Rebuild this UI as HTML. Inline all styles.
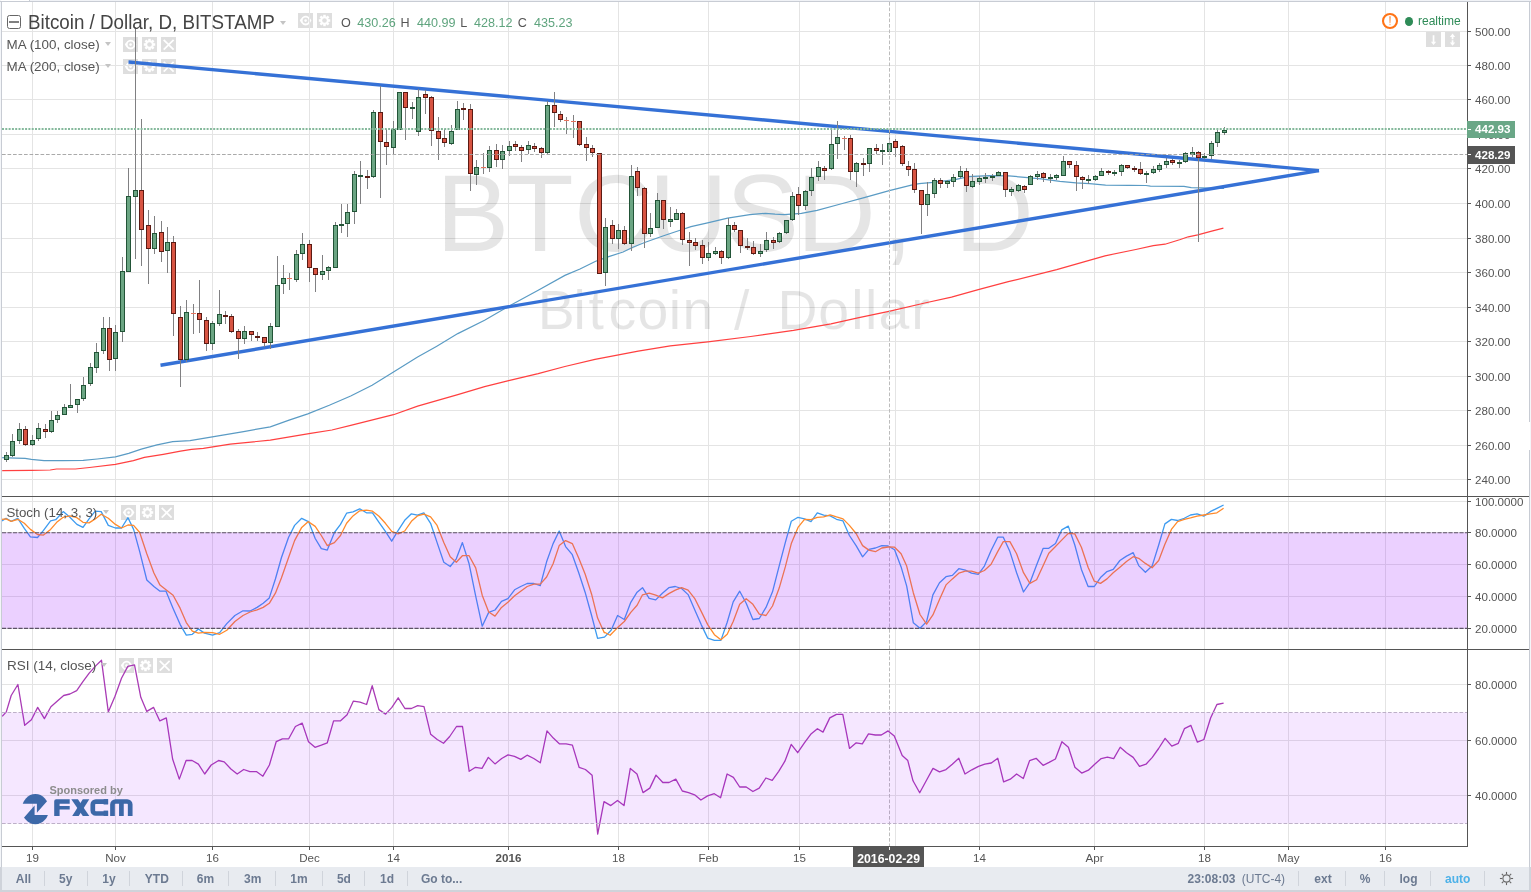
<!DOCTYPE html><html><head><meta charset="utf-8"><title>BTCUSD</title><style>
html,body{margin:0;padding:0;background:#fff;}
body{width:1531px;height:892px;position:relative;overflow:hidden;font-family:"Liberation Sans",sans-serif;filter:blur(0.5px);}
.t{position:absolute;white-space:nowrap;line-height:1;}
.gl{position:absolute;left:0;top:0;width:1531px;height:892px;will-change:transform;}
.ax{font-size:11.6px;color:#555;left:1475px;}
.tm{font-size:11.6px;color:#555;transform:translateX(-50%);top:852px;}
.bb{position:absolute;left:0;top:867px;width:1531px;height:25px;background:#e8ebf0;}
.bt{font-size:12px;font-weight:bold;color:#6c7a91;top:872.5px;transform:translateX(-50%);}
.sep{position:absolute;top:871px;width:1px;height:15px;background:#d0d4db;}
.btn{position:absolute;width:15px;height:15px;background:#dedede;}
.lg{font-size:13.4px;color:#555;}

</style></head><body>
<div class="btn" style="left:298px;top:13px"><svg width="15" height="15" viewBox="0 0 15 15" style="position:absolute;left:0;top:0"><path d="M1.8 7.6 C4 3.6 6 2.7 7.7 2.7 C9.4 2.7 11.4 3.6 13.4 7.6 C11.4 11.6 9.4 12.5 7.7 12.5 C6 12.5 4 11.6 1.8 7.6Z" fill="#fff"/><circle cx="7.6" cy="7.6" r="3" fill="#dedede"/><circle cx="7.6" cy="7.6" r="1.3" fill="#fff"/></svg></div>
<div class="btn" style="left:317px;top:13px"><svg width="15" height="15" viewBox="-7.5 -7.5 15 15" style="position:absolute;left:0;top:0"><g fill="#fff"><circle r="4.3"/><rect x="-1.25" y="-5.7" width="2.5" height="3" transform="rotate(0)"/><rect x="-1.25" y="-5.7" width="2.5" height="3" transform="rotate(45)"/><rect x="-1.25" y="-5.7" width="2.5" height="3" transform="rotate(90)"/><rect x="-1.25" y="-5.7" width="2.5" height="3" transform="rotate(135)"/><rect x="-1.25" y="-5.7" width="2.5" height="3" transform="rotate(180)"/><rect x="-1.25" y="-5.7" width="2.5" height="3" transform="rotate(225)"/><rect x="-1.25" y="-5.7" width="2.5" height="3" transform="rotate(270)"/><rect x="-1.25" y="-5.7" width="2.5" height="3" transform="rotate(315)"/></g><circle r="2.3" fill="#dedede"/></svg></div>
<div class="btn" style="left:123px;top:37px"><svg width="15" height="15" viewBox="0 0 15 15" style="position:absolute;left:0;top:0"><path d="M1.8 7.6 C4 3.6 6 2.7 7.7 2.7 C9.4 2.7 11.4 3.6 13.4 7.6 C11.4 11.6 9.4 12.5 7.7 12.5 C6 12.5 4 11.6 1.8 7.6Z" fill="#fff"/><circle cx="7.6" cy="7.6" r="3" fill="#dedede"/><circle cx="7.6" cy="7.6" r="1.3" fill="#fff"/></svg></div>
<div class="btn" style="left:142px;top:37px"><svg width="15" height="15" viewBox="-7.5 -7.5 15 15" style="position:absolute;left:0;top:0"><g fill="#fff"><circle r="4.3"/><rect x="-1.25" y="-5.7" width="2.5" height="3" transform="rotate(0)"/><rect x="-1.25" y="-5.7" width="2.5" height="3" transform="rotate(45)"/><rect x="-1.25" y="-5.7" width="2.5" height="3" transform="rotate(90)"/><rect x="-1.25" y="-5.7" width="2.5" height="3" transform="rotate(135)"/><rect x="-1.25" y="-5.7" width="2.5" height="3" transform="rotate(180)"/><rect x="-1.25" y="-5.7" width="2.5" height="3" transform="rotate(225)"/><rect x="-1.25" y="-5.7" width="2.5" height="3" transform="rotate(270)"/><rect x="-1.25" y="-5.7" width="2.5" height="3" transform="rotate(315)"/></g><circle r="2.3" fill="#dedede"/></svg></div>
<div class="btn" style="left:161px;top:37px"><svg width="15" height="15" viewBox="0 0 15 15" style="position:absolute;left:0;top:0"><path d="M2.7 2.8 L12.6 12.7 M12.6 2.8 L2.7 12.7" stroke="#fff" stroke-width="1.7" fill="none"/></svg></div>
<div class="btn" style="left:123px;top:59px"><svg width="15" height="15" viewBox="0 0 15 15" style="position:absolute;left:0;top:0"><path d="M1.8 7.6 C4 3.6 6 2.7 7.7 2.7 C9.4 2.7 11.4 3.6 13.4 7.6 C11.4 11.6 9.4 12.5 7.7 12.5 C6 12.5 4 11.6 1.8 7.6Z" fill="#fff"/><circle cx="7.6" cy="7.6" r="3" fill="#dedede"/><circle cx="7.6" cy="7.6" r="1.3" fill="#fff"/></svg></div>
<div class="btn" style="left:142px;top:59px"><svg width="15" height="15" viewBox="-7.5 -7.5 15 15" style="position:absolute;left:0;top:0"><g fill="#fff"><circle r="4.3"/><rect x="-1.25" y="-5.7" width="2.5" height="3" transform="rotate(0)"/><rect x="-1.25" y="-5.7" width="2.5" height="3" transform="rotate(45)"/><rect x="-1.25" y="-5.7" width="2.5" height="3" transform="rotate(90)"/><rect x="-1.25" y="-5.7" width="2.5" height="3" transform="rotate(135)"/><rect x="-1.25" y="-5.7" width="2.5" height="3" transform="rotate(180)"/><rect x="-1.25" y="-5.7" width="2.5" height="3" transform="rotate(225)"/><rect x="-1.25" y="-5.7" width="2.5" height="3" transform="rotate(270)"/><rect x="-1.25" y="-5.7" width="2.5" height="3" transform="rotate(315)"/></g><circle r="2.3" fill="#dedede"/></svg></div>
<div class="btn" style="left:161px;top:59px"><svg width="15" height="15" viewBox="0 0 15 15" style="position:absolute;left:0;top:0"><path d="M2.7 2.8 L12.6 12.7 M12.6 2.8 L2.7 12.7" stroke="#fff" stroke-width="1.7" fill="none"/></svg></div>
<div class="btn" style="left:121px;top:505px"><svg width="15" height="15" viewBox="0 0 15 15" style="position:absolute;left:0;top:0"><path d="M1.8 7.6 C4 3.6 6 2.7 7.7 2.7 C9.4 2.7 11.4 3.6 13.4 7.6 C11.4 11.6 9.4 12.5 7.7 12.5 C6 12.5 4 11.6 1.8 7.6Z" fill="#fff"/><circle cx="7.6" cy="7.6" r="3" fill="#dedede"/><circle cx="7.6" cy="7.6" r="1.3" fill="#fff"/></svg></div>
<div class="btn" style="left:140px;top:505px"><svg width="15" height="15" viewBox="-7.5 -7.5 15 15" style="position:absolute;left:0;top:0"><g fill="#fff"><circle r="4.3"/><rect x="-1.25" y="-5.7" width="2.5" height="3" transform="rotate(0)"/><rect x="-1.25" y="-5.7" width="2.5" height="3" transform="rotate(45)"/><rect x="-1.25" y="-5.7" width="2.5" height="3" transform="rotate(90)"/><rect x="-1.25" y="-5.7" width="2.5" height="3" transform="rotate(135)"/><rect x="-1.25" y="-5.7" width="2.5" height="3" transform="rotate(180)"/><rect x="-1.25" y="-5.7" width="2.5" height="3" transform="rotate(225)"/><rect x="-1.25" y="-5.7" width="2.5" height="3" transform="rotate(270)"/><rect x="-1.25" y="-5.7" width="2.5" height="3" transform="rotate(315)"/></g><circle r="2.3" fill="#dedede"/></svg></div>
<div class="btn" style="left:159px;top:505px"><svg width="15" height="15" viewBox="0 0 15 15" style="position:absolute;left:0;top:0"><path d="M2.7 2.8 L12.6 12.7 M12.6 2.8 L2.7 12.7" stroke="#fff" stroke-width="1.7" fill="none"/></svg></div>
<div class="btn" style="left:119px;top:658px"><svg width="15" height="15" viewBox="0 0 15 15" style="position:absolute;left:0;top:0"><path d="M1.8 7.6 C4 3.6 6 2.7 7.7 2.7 C9.4 2.7 11.4 3.6 13.4 7.6 C11.4 11.6 9.4 12.5 7.7 12.5 C6 12.5 4 11.6 1.8 7.6Z" fill="#fff"/><circle cx="7.6" cy="7.6" r="3" fill="#dedede"/><circle cx="7.6" cy="7.6" r="1.3" fill="#fff"/></svg></div>
<div class="btn" style="left:138px;top:658px"><svg width="15" height="15" viewBox="-7.5 -7.5 15 15" style="position:absolute;left:0;top:0"><g fill="#fff"><circle r="4.3"/><rect x="-1.25" y="-5.7" width="2.5" height="3" transform="rotate(0)"/><rect x="-1.25" y="-5.7" width="2.5" height="3" transform="rotate(45)"/><rect x="-1.25" y="-5.7" width="2.5" height="3" transform="rotate(90)"/><rect x="-1.25" y="-5.7" width="2.5" height="3" transform="rotate(135)"/><rect x="-1.25" y="-5.7" width="2.5" height="3" transform="rotate(180)"/><rect x="-1.25" y="-5.7" width="2.5" height="3" transform="rotate(225)"/><rect x="-1.25" y="-5.7" width="2.5" height="3" transform="rotate(270)"/><rect x="-1.25" y="-5.7" width="2.5" height="3" transform="rotate(315)"/></g><circle r="2.3" fill="#dedede"/></svg></div>
<div class="btn" style="left:157px;top:658px"><svg width="15" height="15" viewBox="0 0 15 15" style="position:absolute;left:0;top:0"><path d="M2.7 2.8 L12.6 12.7 M12.6 2.8 L2.7 12.7" stroke="#fff" stroke-width="1.7" fill="none"/></svg></div>
<div class="btn" style="left:1426px;top:32px"><svg width="15" height="15" viewBox="0 0 15 15" style="position:absolute;left:0;top:0"><path d="M6.7 3.2 H8.4 V9.8 H10.2 L7.55 13.1 L4.9 9.8 H6.7 Z" fill="#fff"/></svg></div>
<div class="btn" style="left:1445px;top:32px"><svg width="15" height="15" viewBox="0 0 15 15" style="position:absolute;left:0;top:0"><path d="M7.55 1.6 L10.2 4.9 H8.4 V7.2 H6.7 V4.9 H4.9 Z M6.7 8.2 H8.4 V10.5 H10.2 L7.55 13.8 L4.9 10.5 H6.7 Z" fill="#fff"/></svg></div>
<svg width="1531" height="892" viewBox="0 0 1531 892" style="position:absolute;left:0;top:0">
<g shape-rendering="crispEdges" fill="#e4e4e4">
<rect x="32" y="2" width="1" height="494"/>
<rect x="32" y="497" width="1" height="152"/>
<rect x="32" y="650" width="1" height="196"/>
<rect x="115" y="2" width="1" height="494"/>
<rect x="115" y="497" width="1" height="152"/>
<rect x="115" y="650" width="1" height="196"/>
<rect x="212" y="2" width="1" height="494"/>
<rect x="212" y="497" width="1" height="152"/>
<rect x="212" y="650" width="1" height="196"/>
<rect x="309" y="2" width="1" height="494"/>
<rect x="309" y="497" width="1" height="152"/>
<rect x="309" y="650" width="1" height="196"/>
<rect x="393" y="2" width="1" height="494"/>
<rect x="393" y="497" width="1" height="152"/>
<rect x="393" y="650" width="1" height="196"/>
<rect x="508" y="2" width="1" height="494"/>
<rect x="508" y="497" width="1" height="152"/>
<rect x="508" y="650" width="1" height="196"/>
<rect x="618" y="2" width="1" height="494"/>
<rect x="618" y="497" width="1" height="152"/>
<rect x="618" y="650" width="1" height="196"/>
<rect x="708" y="2" width="1" height="494"/>
<rect x="708" y="497" width="1" height="152"/>
<rect x="708" y="650" width="1" height="196"/>
<rect x="799" y="2" width="1" height="494"/>
<rect x="799" y="497" width="1" height="152"/>
<rect x="799" y="650" width="1" height="196"/>
<rect x="895" y="2" width="1" height="494"/>
<rect x="895" y="497" width="1" height="152"/>
<rect x="895" y="650" width="1" height="196"/>
<rect x="979" y="2" width="1" height="494"/>
<rect x="979" y="497" width="1" height="152"/>
<rect x="979" y="650" width="1" height="196"/>
<rect x="1094" y="2" width="1" height="494"/>
<rect x="1094" y="497" width="1" height="152"/>
<rect x="1094" y="650" width="1" height="196"/>
<rect x="1204" y="2" width="1" height="494"/>
<rect x="1204" y="497" width="1" height="152"/>
<rect x="1204" y="650" width="1" height="196"/>
<rect x="1288" y="2" width="1" height="494"/>
<rect x="1288" y="497" width="1" height="152"/>
<rect x="1288" y="650" width="1" height="196"/>
<rect x="1385" y="2" width="1" height="494"/>
<rect x="1385" y="497" width="1" height="152"/>
<rect x="1385" y="650" width="1" height="196"/>
<rect x="2" y="31" width="1465" height="1"/>
<rect x="2" y="65" width="1465" height="1"/>
<rect x="2" y="99" width="1465" height="1"/>
<rect x="2" y="134" width="1465" height="1"/>
<rect x="2" y="168" width="1465" height="1"/>
<rect x="2" y="203" width="1465" height="1"/>
<rect x="2" y="238" width="1465" height="1"/>
<rect x="2" y="272" width="1465" height="1"/>
<rect x="2" y="307" width="1465" height="1"/>
<rect x="2" y="341" width="1465" height="1"/>
<rect x="2" y="376" width="1465" height="1"/>
<rect x="2" y="410" width="1465" height="1"/>
<rect x="2" y="445" width="1465" height="1"/>
<rect x="2" y="479" width="1465" height="1"/>
<rect x="2" y="501" width="1465" height="1"/>
<rect x="2" y="532" width="1465" height="1"/>
<rect x="2" y="564" width="1465" height="1"/>
<rect x="2" y="596" width="1465" height="1"/>
<rect x="2" y="628" width="1465" height="1"/>
<rect x="2" y="684" width="1465" height="1"/>
<rect x="2" y="740" width="1465" height="1"/>
<rect x="2" y="795" width="1465" height="1"/>
</g>
<g font-family="Liberation Sans, sans-serif" fill="#000" fill-opacity="0.1">
<text y="250.6" font-size="110" x="435.9 506.5 573.7 648.5 725.8 796.6 882.4 913 954.6">BTCUSD, D</text>
<text y="328.5" font-size="55.4" x="537.7 573.6 588.45 608.5 637.6 668.85 682.6 713 734.1 755 777.5 818.3 851.25 865 878.6 911.15">Bitcoin / Dollar</text>
</g>
<polyline fill="none" stroke="#5a9bc4" stroke-width="1.2" points="2.2,457.7 15.7,458.1 25.1,458.4 31.4,459.3 44.0,460.6 62.8,460.6 83.2,460.4 97.3,459.0 115.4,456.8 128.7,453.3 141.3,449.1 157.0,444.9 172.7,441.7 190.0,440.7 216.8,436.1 243.6,431.6 270.3,426.8 289.1,420.1 307.8,413.9 329.3,405.3 350.7,396.0 372.1,385.2 393.5,371.9 417.6,357.1 436.4,346.4 457.8,333.6 484.6,320.2 508.7,306.2 538.2,290.2 564.9,275.4 580.0,269.0 595.7,261.2 608.7,256.6 623.1,252.0 632.3,247.5 645.3,242.3 663.6,235.7 679.3,230.5 691.0,226.6 708.7,222.7 727.6,218.1 749.8,214.6 765.5,213.3 775.0,214.2 784.1,214.6 801.4,213.4 817.1,210.3 840.6,204.0 864.2,197.7 889.3,190.6 911.3,185.2 919.1,183.6 933.3,182.3 955.0,179.7 968.4,176.6 988.6,175.6 1008.8,175.9 1024.9,177.3 1041.1,178.9 1059.9,181.3 1076.0,182.9 1089.5,183.7 1105.6,185.1 1129.8,185.3 1146.0,185.5 1150.4,186.1 1184.0,186.4 1191.2,187.6 1201.4,187.9 1224.0,188.5"/>
<polyline fill="none" stroke="#ff4040" stroke-width="1.2" points="2.2,470.6 31.4,470.3 50.2,470.0 56.5,469.0 75.4,469.0 89.5,467.5 115.4,464.3 133.4,460.6 144.4,457.4 163.3,454.3 180.5,451.1 191.5,449.3 203.4,448.3 230.2,444.2 270.3,440.1 310.5,433.4 331.9,430.0 350.7,425.4 393.5,414.7 417.6,406.1 457.8,394.6 484.6,386.6 508.7,380.7 538.2,373.7 564.9,366.5 595.0,359.3 638.2,351.2 670.3,345.9 707.8,341.9 750.7,336.5 793.5,330.3 831.0,323.9 857.8,317.8 890.0,311.1 924.8,303.0 951.5,297.1 978.3,289.6 1008.3,281.7 1056.7,269.6 1105.0,255.8 1135.8,249.5 1153.3,245.7 1165.0,244.2 1179.6,239.8 1188.3,236.8 1197.8,234.8 1211.7,231.2 1223.4,228.2"/>
<g stroke="#3571d6" stroke-width="3.4" stroke-linecap="butt" fill="none">
<line x1="128.5" y1="62" x2="1319" y2="170.6"/>
<line x1="160.5" y1="365.3" x2="1319" y2="170.6"/>
</g>
<g shape-rendering="crispEdges">
<rect x="-1" y="458" width="1" height="9" fill="#808082"/>
<rect x="-3" y="460" width="5" height="5" fill="#225437"/>
<rect x="-2" y="461" width="3" height="3" fill="#6ba583"/>
<rect x="6" y="452" width="1" height="10" fill="#808082"/>
<rect x="4" y="455" width="5" height="5" fill="#225437"/>
<rect x="5" y="456" width="3" height="3" fill="#6ba583"/>
<rect x="12" y="434" width="1" height="23" fill="#808082"/>
<rect x="10" y="441" width="5" height="15" fill="#225437"/>
<rect x="11" y="442" width="3" height="13" fill="#6ba583"/>
<rect x="19" y="423" width="1" height="21" fill="#808082"/>
<rect x="17" y="429" width="5" height="12" fill="#225437"/>
<rect x="18" y="430" width="3" height="10" fill="#6ba583"/>
<rect x="25" y="426" width="1" height="20" fill="#808082"/>
<rect x="23" y="429" width="5" height="16" fill="#5b1a13"/>
<rect x="24" y="430" width="3" height="14" fill="#d75442"/>
<rect x="32" y="435" width="1" height="11" fill="#808082"/>
<rect x="30" y="440" width="5" height="5" fill="#225437"/>
<rect x="31" y="441" width="3" height="3" fill="#6ba583"/>
<rect x="38" y="423" width="1" height="18" fill="#808082"/>
<rect x="36" y="428" width="5" height="11" fill="#225437"/>
<rect x="37" y="429" width="3" height="9" fill="#6ba583"/>
<rect x="45" y="424" width="1" height="14" fill="#808082"/>
<rect x="43" y="429" width="5" height="3" fill="#5b1a13"/>
<rect x="44" y="430" width="3" height="1" fill="#d75442"/>
<rect x="51" y="411" width="1" height="22" fill="#808082"/>
<rect x="49" y="420" width="5" height="12" fill="#225437"/>
<rect x="50" y="421" width="3" height="10" fill="#6ba583"/>
<rect x="57" y="411" width="1" height="12" fill="#808082"/>
<rect x="55" y="415" width="5" height="5" fill="#225437"/>
<rect x="56" y="416" width="3" height="3" fill="#6ba583"/>
<rect x="64" y="404" width="1" height="11" fill="#808082"/>
<rect x="62" y="407" width="5" height="8" fill="#225437"/>
<rect x="63" y="408" width="3" height="6" fill="#6ba583"/>
<rect x="70" y="384" width="1" height="24" fill="#808082"/>
<rect x="68" y="405" width="5" height="3" fill="#225437"/>
<rect x="69" y="406" width="3" height="1" fill="#6ba583"/>
<rect x="77" y="399" width="1" height="14" fill="#808082"/>
<rect x="75" y="399" width="5" height="6" fill="#225437"/>
<rect x="76" y="400" width="3" height="4" fill="#6ba583"/>
<rect x="83" y="377" width="1" height="24" fill="#808082"/>
<rect x="81" y="385" width="5" height="14" fill="#225437"/>
<rect x="82" y="386" width="3" height="12" fill="#6ba583"/>
<rect x="90" y="363" width="1" height="23" fill="#808082"/>
<rect x="88" y="367" width="5" height="17" fill="#225437"/>
<rect x="89" y="368" width="3" height="15" fill="#6ba583"/>
<rect x="96" y="343" width="1" height="30" fill="#808082"/>
<rect x="94" y="352" width="5" height="16" fill="#225437"/>
<rect x="95" y="353" width="3" height="14" fill="#6ba583"/>
<rect x="103" y="317" width="1" height="37" fill="#808082"/>
<rect x="101" y="328" width="5" height="23" fill="#225437"/>
<rect x="102" y="329" width="3" height="21" fill="#6ba583"/>
<rect x="109" y="317" width="1" height="54" fill="#808082"/>
<rect x="107" y="328" width="5" height="32" fill="#5b1a13"/>
<rect x="108" y="329" width="3" height="30" fill="#d75442"/>
<rect x="115" y="325" width="1" height="46" fill="#808082"/>
<rect x="113" y="332" width="5" height="27" fill="#225437"/>
<rect x="114" y="333" width="3" height="25" fill="#6ba583"/>
<rect x="122" y="257" width="1" height="85" fill="#808082"/>
<rect x="120" y="271" width="5" height="61" fill="#225437"/>
<rect x="121" y="272" width="3" height="59" fill="#6ba583"/>
<rect x="128" y="168" width="1" height="104" fill="#808082"/>
<rect x="126" y="196" width="5" height="76" fill="#225437"/>
<rect x="127" y="197" width="3" height="74" fill="#6ba583"/>
<rect x="135" y="27" width="1" height="232" fill="#808082"/>
<rect x="133" y="190" width="5" height="7" fill="#225437"/>
<rect x="134" y="191" width="3" height="5" fill="#6ba583"/>
<rect x="141" y="119" width="1" height="147" fill="#808082"/>
<rect x="139" y="190" width="5" height="40" fill="#5b1a13"/>
<rect x="140" y="191" width="3" height="38" fill="#d75442"/>
<rect x="148" y="210" width="1" height="74" fill="#808082"/>
<rect x="146" y="225" width="5" height="24" fill="#5b1a13"/>
<rect x="147" y="226" width="3" height="22" fill="#d75442"/>
<rect x="154" y="216" width="1" height="38" fill="#808082"/>
<rect x="152" y="233" width="5" height="16" fill="#225437"/>
<rect x="153" y="234" width="3" height="14" fill="#6ba583"/>
<rect x="161" y="221" width="1" height="41" fill="#808082"/>
<rect x="159" y="232" width="5" height="20" fill="#5b1a13"/>
<rect x="160" y="233" width="3" height="18" fill="#d75442"/>
<rect x="167" y="227" width="1" height="46" fill="#808082"/>
<rect x="165" y="242" width="5" height="9" fill="#225437"/>
<rect x="166" y="243" width="3" height="7" fill="#6ba583"/>
<rect x="173" y="236" width="1" height="100" fill="#808082"/>
<rect x="171" y="242" width="5" height="72" fill="#5b1a13"/>
<rect x="172" y="243" width="3" height="70" fill="#d75442"/>
<rect x="180" y="306" width="1" height="81" fill="#808082"/>
<rect x="178" y="317" width="5" height="43" fill="#5b1a13"/>
<rect x="179" y="318" width="3" height="41" fill="#d75442"/>
<rect x="186" y="300" width="1" height="62" fill="#808082"/>
<rect x="184" y="312" width="5" height="48" fill="#225437"/>
<rect x="185" y="313" width="3" height="46" fill="#6ba583"/>
<rect x="193" y="304" width="1" height="30" fill="#808082"/>
<rect x="191" y="313" width="5" height="1" fill="#e8745f"/>
<rect x="199" y="280" width="1" height="53" fill="#808082"/>
<rect x="197" y="313" width="5" height="7" fill="#5b1a13"/>
<rect x="198" y="314" width="3" height="5" fill="#d75442"/>
<rect x="206" y="317" width="1" height="34" fill="#808082"/>
<rect x="204" y="320" width="5" height="24" fill="#5b1a13"/>
<rect x="205" y="321" width="3" height="22" fill="#d75442"/>
<rect x="212" y="321" width="1" height="29" fill="#808082"/>
<rect x="210" y="323" width="5" height="21" fill="#225437"/>
<rect x="211" y="324" width="3" height="19" fill="#6ba583"/>
<rect x="219" y="290" width="1" height="36" fill="#808082"/>
<rect x="217" y="314" width="5" height="10" fill="#225437"/>
<rect x="218" y="315" width="3" height="8" fill="#6ba583"/>
<rect x="225" y="311" width="1" height="13" fill="#808082"/>
<rect x="223" y="315" width="5" height="2" fill="#5b1a13"/>
<rect x="231" y="314" width="1" height="19" fill="#808082"/>
<rect x="229" y="316" width="5" height="16" fill="#5b1a13"/>
<rect x="230" y="317" width="3" height="14" fill="#d75442"/>
<rect x="238" y="329" width="1" height="30" fill="#808082"/>
<rect x="236" y="331" width="5" height="8" fill="#5b1a13"/>
<rect x="237" y="332" width="3" height="6" fill="#d75442"/>
<rect x="244" y="326" width="1" height="18" fill="#808082"/>
<rect x="242" y="331" width="5" height="8" fill="#225437"/>
<rect x="243" y="332" width="3" height="6" fill="#6ba583"/>
<rect x="251" y="331" width="1" height="10" fill="#808082"/>
<rect x="249" y="331" width="5" height="4" fill="#5b1a13"/>
<rect x="250" y="332" width="3" height="2" fill="#d75442"/>
<rect x="257" y="332" width="1" height="9" fill="#808082"/>
<rect x="255" y="336" width="5" height="2" fill="#5b1a13"/>
<rect x="264" y="337" width="1" height="10" fill="#808082"/>
<rect x="262" y="337" width="5" height="6" fill="#5b1a13"/>
<rect x="263" y="338" width="3" height="4" fill="#d75442"/>
<rect x="270" y="323" width="1" height="26" fill="#808082"/>
<rect x="268" y="326" width="5" height="17" fill="#225437"/>
<rect x="269" y="327" width="3" height="15" fill="#6ba583"/>
<rect x="277" y="256" width="1" height="71" fill="#808082"/>
<rect x="275" y="285" width="5" height="42" fill="#225437"/>
<rect x="276" y="286" width="3" height="40" fill="#6ba583"/>
<rect x="283" y="265" width="1" height="29" fill="#808082"/>
<rect x="281" y="278" width="5" height="6" fill="#225437"/>
<rect x="282" y="279" width="3" height="4" fill="#6ba583"/>
<rect x="289" y="273" width="1" height="17" fill="#808082"/>
<rect x="287" y="278" width="5" height="1" fill="#e8745f"/>
<rect x="296" y="250" width="1" height="32" fill="#808082"/>
<rect x="294" y="254" width="5" height="26" fill="#225437"/>
<rect x="295" y="255" width="3" height="24" fill="#6ba583"/>
<rect x="302" y="233" width="1" height="27" fill="#808082"/>
<rect x="300" y="244" width="5" height="10" fill="#225437"/>
<rect x="301" y="245" width="3" height="8" fill="#6ba583"/>
<rect x="309" y="240" width="1" height="42" fill="#808082"/>
<rect x="307" y="244" width="5" height="24" fill="#5b1a13"/>
<rect x="308" y="245" width="3" height="22" fill="#d75442"/>
<rect x="315" y="268" width="1" height="24" fill="#808082"/>
<rect x="313" y="268" width="5" height="7" fill="#5b1a13"/>
<rect x="314" y="269" width="3" height="5" fill="#d75442"/>
<rect x="322" y="255" width="1" height="25" fill="#808082"/>
<rect x="320" y="271" width="5" height="4" fill="#225437"/>
<rect x="321" y="272" width="3" height="2" fill="#6ba583"/>
<rect x="328" y="266" width="1" height="14" fill="#808082"/>
<rect x="326" y="267" width="5" height="4" fill="#225437"/>
<rect x="327" y="268" width="3" height="2" fill="#6ba583"/>
<rect x="335" y="222" width="1" height="46" fill="#808082"/>
<rect x="333" y="225" width="5" height="43" fill="#225437"/>
<rect x="334" y="226" width="3" height="41" fill="#6ba583"/>
<rect x="341" y="204" width="1" height="29" fill="#808082"/>
<rect x="339" y="224" width="5" height="2" fill="#225437"/>
<rect x="347" y="204" width="1" height="33" fill="#808082"/>
<rect x="345" y="212" width="5" height="12" fill="#225437"/>
<rect x="346" y="213" width="3" height="10" fill="#6ba583"/>
<rect x="354" y="171" width="1" height="53" fill="#808082"/>
<rect x="352" y="174" width="5" height="38" fill="#225437"/>
<rect x="353" y="175" width="3" height="36" fill="#6ba583"/>
<rect x="360" y="161" width="1" height="43" fill="#808082"/>
<rect x="358" y="175" width="5" height="2" fill="#225437"/>
<rect x="367" y="170" width="1" height="19" fill="#808082"/>
<rect x="365" y="176" width="5" height="2" fill="#5b1a13"/>
<rect x="373" y="110" width="1" height="68" fill="#808082"/>
<rect x="371" y="112" width="5" height="65" fill="#225437"/>
<rect x="372" y="113" width="3" height="63" fill="#6ba583"/>
<rect x="380" y="86" width="1" height="112" fill="#808082"/>
<rect x="378" y="112" width="5" height="30" fill="#5b1a13"/>
<rect x="379" y="113" width="3" height="28" fill="#d75442"/>
<rect x="386" y="129" width="1" height="36" fill="#808082"/>
<rect x="384" y="142" width="5" height="5" fill="#5b1a13"/>
<rect x="385" y="143" width="3" height="3" fill="#d75442"/>
<rect x="393" y="121" width="1" height="33" fill="#808082"/>
<rect x="391" y="129" width="5" height="19" fill="#225437"/>
<rect x="392" y="130" width="3" height="17" fill="#6ba583"/>
<rect x="399" y="92" width="1" height="38" fill="#808082"/>
<rect x="397" y="92" width="5" height="38" fill="#225437"/>
<rect x="398" y="93" width="3" height="36" fill="#6ba583"/>
<rect x="405" y="92" width="1" height="48" fill="#808082"/>
<rect x="403" y="92" width="5" height="16" fill="#5b1a13"/>
<rect x="404" y="93" width="3" height="14" fill="#d75442"/>
<rect x="412" y="102" width="1" height="17" fill="#808082"/>
<rect x="410" y="107" width="5" height="2" fill="#225437"/>
<rect x="418" y="89" width="1" height="47" fill="#808082"/>
<rect x="416" y="97" width="5" height="35" fill="#225437"/>
<rect x="417" y="98" width="3" height="33" fill="#6ba583"/>
<rect x="425" y="90" width="1" height="24" fill="#808082"/>
<rect x="423" y="94" width="5" height="4" fill="#5b1a13"/>
<rect x="424" y="95" width="3" height="2" fill="#d75442"/>
<rect x="431" y="96" width="1" height="50" fill="#808082"/>
<rect x="429" y="97" width="5" height="34" fill="#5b1a13"/>
<rect x="430" y="98" width="3" height="32" fill="#d75442"/>
<rect x="438" y="117" width="1" height="43" fill="#808082"/>
<rect x="436" y="131" width="5" height="8" fill="#5b1a13"/>
<rect x="437" y="132" width="3" height="6" fill="#d75442"/>
<rect x="444" y="129" width="1" height="18" fill="#808082"/>
<rect x="442" y="138" width="5" height="5" fill="#5b1a13"/>
<rect x="443" y="139" width="3" height="3" fill="#d75442"/>
<rect x="451" y="125" width="1" height="20" fill="#808082"/>
<rect x="449" y="131" width="5" height="13" fill="#225437"/>
<rect x="450" y="132" width="3" height="11" fill="#6ba583"/>
<rect x="457" y="101" width="1" height="29" fill="#808082"/>
<rect x="455" y="109" width="5" height="21" fill="#225437"/>
<rect x="456" y="110" width="3" height="19" fill="#6ba583"/>
<rect x="463" y="103" width="1" height="17" fill="#808082"/>
<rect x="461" y="108" width="5" height="2" fill="#5b1a13"/>
<rect x="470" y="104" width="1" height="87" fill="#808082"/>
<rect x="468" y="109" width="5" height="65" fill="#5b1a13"/>
<rect x="469" y="110" width="3" height="63" fill="#d75442"/>
<rect x="476" y="160" width="1" height="25" fill="#808082"/>
<rect x="474" y="167" width="5" height="8" fill="#225437"/>
<rect x="475" y="168" width="3" height="6" fill="#6ba583"/>
<rect x="483" y="153" width="1" height="21" fill="#808082"/>
<rect x="481" y="167" width="5" height="1" fill="#e8745f"/>
<rect x="489" y="146" width="1" height="26" fill="#808082"/>
<rect x="487" y="150" width="5" height="18" fill="#225437"/>
<rect x="488" y="151" width="3" height="16" fill="#6ba583"/>
<rect x="496" y="144" width="1" height="23" fill="#808082"/>
<rect x="494" y="150" width="5" height="10" fill="#5b1a13"/>
<rect x="495" y="151" width="3" height="8" fill="#d75442"/>
<rect x="502" y="145" width="1" height="24" fill="#808082"/>
<rect x="500" y="151" width="5" height="9" fill="#225437"/>
<rect x="501" y="152" width="3" height="7" fill="#6ba583"/>
<rect x="509" y="141" width="1" height="15" fill="#808082"/>
<rect x="507" y="146" width="5" height="5" fill="#225437"/>
<rect x="508" y="147" width="3" height="3" fill="#6ba583"/>
<rect x="515" y="141" width="1" height="10" fill="#808082"/>
<rect x="513" y="144" width="5" height="3" fill="#5b1a13"/>
<rect x="514" y="145" width="3" height="1" fill="#d75442"/>
<rect x="521" y="145" width="1" height="17" fill="#808082"/>
<rect x="519" y="147" width="5" height="4" fill="#5b1a13"/>
<rect x="520" y="148" width="3" height="2" fill="#d75442"/>
<rect x="528" y="141" width="1" height="13" fill="#808082"/>
<rect x="526" y="145" width="5" height="5" fill="#225437"/>
<rect x="527" y="146" width="3" height="3" fill="#6ba583"/>
<rect x="534" y="143" width="1" height="9" fill="#808082"/>
<rect x="532" y="146" width="5" height="3" fill="#5b1a13"/>
<rect x="533" y="147" width="3" height="1" fill="#d75442"/>
<rect x="541" y="147" width="1" height="11" fill="#808082"/>
<rect x="539" y="148" width="5" height="5" fill="#5b1a13"/>
<rect x="540" y="149" width="3" height="3" fill="#d75442"/>
<rect x="547" y="101" width="1" height="53" fill="#808082"/>
<rect x="545" y="105" width="5" height="48" fill="#225437"/>
<rect x="546" y="106" width="3" height="46" fill="#6ba583"/>
<rect x="554" y="92" width="1" height="35" fill="#808082"/>
<rect x="552" y="105" width="5" height="8" fill="#5b1a13"/>
<rect x="553" y="106" width="3" height="6" fill="#d75442"/>
<rect x="560" y="111" width="1" height="11" fill="#808082"/>
<rect x="558" y="114" width="5" height="6" fill="#5b1a13"/>
<rect x="559" y="115" width="3" height="4" fill="#d75442"/>
<rect x="566" y="117" width="1" height="17" fill="#808082"/>
<rect x="564" y="120" width="5" height="1" fill="#e8745f"/>
<rect x="573" y="115" width="1" height="23" fill="#808082"/>
<rect x="571" y="121" width="5" height="1" fill="#e8745f"/>
<rect x="579" y="121" width="1" height="25" fill="#808082"/>
<rect x="577" y="121" width="5" height="24" fill="#5b1a13"/>
<rect x="578" y="122" width="3" height="22" fill="#d75442"/>
<rect x="586" y="137" width="1" height="24" fill="#808082"/>
<rect x="584" y="144" width="5" height="4" fill="#5b1a13"/>
<rect x="585" y="145" width="3" height="2" fill="#d75442"/>
<rect x="592" y="145" width="1" height="12" fill="#808082"/>
<rect x="590" y="148" width="5" height="5" fill="#5b1a13"/>
<rect x="591" y="149" width="3" height="3" fill="#d75442"/>
<rect x="599" y="153" width="1" height="121" fill="#808082"/>
<rect x="597" y="153" width="5" height="121" fill="#5b1a13"/>
<rect x="598" y="154" width="3" height="119" fill="#d75442"/>
<rect x="605" y="218" width="1" height="68" fill="#808082"/>
<rect x="603" y="227" width="5" height="46" fill="#225437"/>
<rect x="604" y="228" width="3" height="44" fill="#6ba583"/>
<rect x="612" y="220" width="1" height="24" fill="#808082"/>
<rect x="610" y="225" width="5" height="14" fill="#5b1a13"/>
<rect x="611" y="226" width="3" height="12" fill="#d75442"/>
<rect x="618" y="224" width="1" height="25" fill="#808082"/>
<rect x="616" y="230" width="5" height="9" fill="#225437"/>
<rect x="617" y="231" width="3" height="7" fill="#6ba583"/>
<rect x="624" y="226" width="1" height="19" fill="#808082"/>
<rect x="622" y="230" width="5" height="14" fill="#5b1a13"/>
<rect x="623" y="231" width="3" height="12" fill="#d75442"/>
<rect x="631" y="165" width="1" height="86" fill="#808082"/>
<rect x="629" y="176" width="5" height="68" fill="#225437"/>
<rect x="630" y="177" width="3" height="66" fill="#6ba583"/>
<rect x="637" y="167" width="1" height="29" fill="#808082"/>
<rect x="635" y="171" width="5" height="17" fill="#5b1a13"/>
<rect x="636" y="172" width="3" height="15" fill="#d75442"/>
<rect x="644" y="187" width="1" height="61" fill="#808082"/>
<rect x="642" y="188" width="5" height="46" fill="#5b1a13"/>
<rect x="643" y="189" width="3" height="44" fill="#d75442"/>
<rect x="650" y="213" width="1" height="24" fill="#808082"/>
<rect x="648" y="228" width="5" height="6" fill="#225437"/>
<rect x="649" y="229" width="3" height="4" fill="#6ba583"/>
<rect x="657" y="193" width="1" height="35" fill="#808082"/>
<rect x="655" y="200" width="5" height="28" fill="#225437"/>
<rect x="656" y="201" width="3" height="26" fill="#6ba583"/>
<rect x="663" y="200" width="1" height="29" fill="#808082"/>
<rect x="661" y="200" width="5" height="20" fill="#5b1a13"/>
<rect x="662" y="201" width="3" height="18" fill="#d75442"/>
<rect x="670" y="207" width="1" height="20" fill="#808082"/>
<rect x="668" y="219" width="5" height="3" fill="#225437"/>
<rect x="669" y="220" width="3" height="1" fill="#6ba583"/>
<rect x="676" y="209" width="1" height="11" fill="#808082"/>
<rect x="674" y="213" width="5" height="7" fill="#225437"/>
<rect x="675" y="214" width="3" height="5" fill="#6ba583"/>
<rect x="682" y="212" width="1" height="33" fill="#808082"/>
<rect x="680" y="213" width="5" height="27" fill="#5b1a13"/>
<rect x="681" y="214" width="3" height="25" fill="#d75442"/>
<rect x="689" y="232" width="1" height="34" fill="#808082"/>
<rect x="687" y="240" width="5" height="3" fill="#5b1a13"/>
<rect x="688" y="241" width="3" height="1" fill="#d75442"/>
<rect x="695" y="238" width="1" height="12" fill="#808082"/>
<rect x="693" y="242" width="5" height="4" fill="#5b1a13"/>
<rect x="694" y="243" width="3" height="2" fill="#d75442"/>
<rect x="702" y="240" width="1" height="24" fill="#808082"/>
<rect x="700" y="245" width="5" height="13" fill="#5b1a13"/>
<rect x="701" y="246" width="3" height="11" fill="#d75442"/>
<rect x="708" y="242" width="1" height="19" fill="#808082"/>
<rect x="706" y="253" width="5" height="5" fill="#225437"/>
<rect x="707" y="254" width="3" height="3" fill="#6ba583"/>
<rect x="715" y="247" width="1" height="8" fill="#808082"/>
<rect x="713" y="251" width="5" height="3" fill="#225437"/>
<rect x="714" y="252" width="3" height="1" fill="#6ba583"/>
<rect x="721" y="250" width="1" height="14" fill="#808082"/>
<rect x="719" y="251" width="5" height="7" fill="#5b1a13"/>
<rect x="720" y="252" width="3" height="5" fill="#d75442"/>
<rect x="728" y="218" width="1" height="41" fill="#808082"/>
<rect x="726" y="225" width="5" height="33" fill="#225437"/>
<rect x="727" y="226" width="3" height="31" fill="#6ba583"/>
<rect x="734" y="222" width="1" height="10" fill="#808082"/>
<rect x="732" y="225" width="5" height="5" fill="#5b1a13"/>
<rect x="733" y="226" width="3" height="3" fill="#d75442"/>
<rect x="740" y="230" width="1" height="23" fill="#808082"/>
<rect x="738" y="230" width="5" height="16" fill="#5b1a13"/>
<rect x="739" y="231" width="3" height="14" fill="#d75442"/>
<rect x="747" y="238" width="1" height="12" fill="#808082"/>
<rect x="745" y="246" width="5" height="2" fill="#5b1a13"/>
<rect x="753" y="241" width="1" height="14" fill="#808082"/>
<rect x="751" y="247" width="5" height="7" fill="#5b1a13"/>
<rect x="752" y="248" width="3" height="5" fill="#d75442"/>
<rect x="760" y="244" width="1" height="13" fill="#808082"/>
<rect x="758" y="251" width="5" height="3" fill="#225437"/>
<rect x="759" y="252" width="3" height="1" fill="#6ba583"/>
<rect x="766" y="232" width="1" height="20" fill="#808082"/>
<rect x="764" y="240" width="5" height="10" fill="#225437"/>
<rect x="765" y="241" width="3" height="8" fill="#6ba583"/>
<rect x="773" y="237" width="1" height="12" fill="#808082"/>
<rect x="771" y="240" width="5" height="3" fill="#5b1a13"/>
<rect x="772" y="241" width="3" height="1" fill="#d75442"/>
<rect x="779" y="232" width="1" height="11" fill="#808082"/>
<rect x="777" y="233" width="5" height="9" fill="#225437"/>
<rect x="778" y="234" width="3" height="7" fill="#6ba583"/>
<rect x="786" y="220" width="1" height="14" fill="#808082"/>
<rect x="784" y="220" width="5" height="13" fill="#225437"/>
<rect x="785" y="221" width="3" height="11" fill="#6ba583"/>
<rect x="792" y="192" width="1" height="29" fill="#808082"/>
<rect x="790" y="196" width="5" height="24" fill="#225437"/>
<rect x="791" y="197" width="3" height="22" fill="#6ba583"/>
<rect x="798" y="187" width="1" height="28" fill="#808082"/>
<rect x="796" y="194" width="5" height="12" fill="#5b1a13"/>
<rect x="797" y="195" width="3" height="10" fill="#d75442"/>
<rect x="805" y="190" width="1" height="20" fill="#808082"/>
<rect x="803" y="191" width="5" height="15" fill="#225437"/>
<rect x="804" y="192" width="3" height="13" fill="#6ba583"/>
<rect x="811" y="168" width="1" height="28" fill="#808082"/>
<rect x="809" y="177" width="5" height="14" fill="#225437"/>
<rect x="810" y="178" width="3" height="12" fill="#6ba583"/>
<rect x="818" y="161" width="1" height="20" fill="#808082"/>
<rect x="816" y="167" width="5" height="10" fill="#225437"/>
<rect x="817" y="168" width="3" height="8" fill="#6ba583"/>
<rect x="824" y="166" width="1" height="14" fill="#808082"/>
<rect x="822" y="168" width="5" height="3" fill="#5b1a13"/>
<rect x="823" y="169" width="3" height="1" fill="#d75442"/>
<rect x="831" y="128" width="1" height="42" fill="#808082"/>
<rect x="829" y="144" width="5" height="25" fill="#225437"/>
<rect x="830" y="145" width="3" height="23" fill="#6ba583"/>
<rect x="837" y="121" width="1" height="38" fill="#808082"/>
<rect x="835" y="137" width="5" height="7" fill="#225437"/>
<rect x="836" y="138" width="3" height="5" fill="#6ba583"/>
<rect x="844" y="136" width="1" height="14" fill="#808082"/>
<rect x="842" y="138" width="5" height="1" fill="#e8745f"/>
<rect x="850" y="135" width="1" height="45" fill="#808082"/>
<rect x="848" y="138" width="5" height="34" fill="#5b1a13"/>
<rect x="849" y="139" width="3" height="32" fill="#d75442"/>
<rect x="856" y="162" width="1" height="25" fill="#808082"/>
<rect x="854" y="163" width="5" height="9" fill="#225437"/>
<rect x="855" y="164" width="3" height="7" fill="#6ba583"/>
<rect x="863" y="158" width="1" height="18" fill="#808082"/>
<rect x="861" y="163" width="5" height="2" fill="#5b1a13"/>
<rect x="869" y="148" width="1" height="24" fill="#808082"/>
<rect x="867" y="148" width="5" height="16" fill="#225437"/>
<rect x="868" y="149" width="3" height="14" fill="#6ba583"/>
<rect x="876" y="144" width="1" height="10" fill="#808082"/>
<rect x="874" y="148" width="5" height="3" fill="#5b1a13"/>
<rect x="875" y="149" width="3" height="1" fill="#d75442"/>
<rect x="882" y="144" width="1" height="21" fill="#808082"/>
<rect x="880" y="150" width="5" height="2" fill="#225437"/>
<rect x="889" y="130" width="1" height="25" fill="#808082"/>
<rect x="887" y="143" width="5" height="9" fill="#225437"/>
<rect x="888" y="144" width="3" height="7" fill="#6ba583"/>
<rect x="895" y="139" width="1" height="18" fill="#808082"/>
<rect x="893" y="141" width="5" height="7" fill="#5b1a13"/>
<rect x="894" y="142" width="3" height="5" fill="#d75442"/>
<rect x="902" y="145" width="1" height="21" fill="#808082"/>
<rect x="900" y="146" width="5" height="18" fill="#5b1a13"/>
<rect x="901" y="147" width="3" height="16" fill="#d75442"/>
<rect x="908" y="161" width="1" height="15" fill="#808082"/>
<rect x="906" y="166" width="5" height="4" fill="#5b1a13"/>
<rect x="907" y="167" width="3" height="2" fill="#d75442"/>
<rect x="914" y="163" width="1" height="30" fill="#808082"/>
<rect x="912" y="169" width="5" height="21" fill="#5b1a13"/>
<rect x="913" y="170" width="3" height="19" fill="#d75442"/>
<rect x="921" y="190" width="1" height="44" fill="#808082"/>
<rect x="919" y="190" width="5" height="15" fill="#5b1a13"/>
<rect x="920" y="191" width="3" height="13" fill="#d75442"/>
<rect x="927" y="182" width="1" height="34" fill="#808082"/>
<rect x="925" y="194" width="5" height="11" fill="#225437"/>
<rect x="926" y="195" width="3" height="9" fill="#6ba583"/>
<rect x="934" y="178" width="1" height="20" fill="#808082"/>
<rect x="932" y="180" width="5" height="14" fill="#225437"/>
<rect x="933" y="181" width="3" height="12" fill="#6ba583"/>
<rect x="940" y="178" width="1" height="10" fill="#808082"/>
<rect x="938" y="180" width="5" height="4" fill="#5b1a13"/>
<rect x="939" y="181" width="3" height="2" fill="#d75442"/>
<rect x="947" y="180" width="1" height="8" fill="#808082"/>
<rect x="945" y="181" width="5" height="3" fill="#225437"/>
<rect x="946" y="182" width="3" height="1" fill="#6ba583"/>
<rect x="953" y="174" width="1" height="13" fill="#808082"/>
<rect x="951" y="177" width="5" height="5" fill="#225437"/>
<rect x="952" y="178" width="3" height="3" fill="#6ba583"/>
<rect x="960" y="166" width="1" height="12" fill="#808082"/>
<rect x="958" y="171" width="5" height="6" fill="#225437"/>
<rect x="959" y="172" width="3" height="4" fill="#6ba583"/>
<rect x="966" y="168" width="1" height="24" fill="#808082"/>
<rect x="964" y="171" width="5" height="15" fill="#5b1a13"/>
<rect x="965" y="172" width="3" height="13" fill="#d75442"/>
<rect x="972" y="174" width="1" height="14" fill="#808082"/>
<rect x="970" y="181" width="5" height="6" fill="#225437"/>
<rect x="971" y="182" width="3" height="4" fill="#6ba583"/>
<rect x="979" y="176" width="1" height="9" fill="#808082"/>
<rect x="977" y="178" width="5" height="4" fill="#225437"/>
<rect x="978" y="179" width="3" height="2" fill="#6ba583"/>
<rect x="985" y="173" width="1" height="10" fill="#808082"/>
<rect x="983" y="177" width="5" height="2" fill="#225437"/>
<rect x="992" y="174" width="1" height="7" fill="#808082"/>
<rect x="990" y="176" width="5" height="2" fill="#225437"/>
<rect x="998" y="171" width="1" height="5" fill="#808082"/>
<rect x="996" y="172" width="5" height="4" fill="#225437"/>
<rect x="997" y="173" width="3" height="2" fill="#6ba583"/>
<rect x="1005" y="172" width="1" height="25" fill="#808082"/>
<rect x="1003" y="172" width="5" height="18" fill="#5b1a13"/>
<rect x="1004" y="173" width="3" height="16" fill="#d75442"/>
<rect x="1011" y="187" width="1" height="9" fill="#808082"/>
<rect x="1009" y="189" width="5" height="3" fill="#225437"/>
<rect x="1010" y="190" width="3" height="1" fill="#6ba583"/>
<rect x="1018" y="184" width="1" height="8" fill="#808082"/>
<rect x="1016" y="185" width="5" height="6" fill="#225437"/>
<rect x="1017" y="186" width="3" height="4" fill="#6ba583"/>
<rect x="1024" y="185" width="1" height="8" fill="#808082"/>
<rect x="1022" y="186" width="5" height="4" fill="#5b1a13"/>
<rect x="1023" y="187" width="3" height="2" fill="#d75442"/>
<rect x="1030" y="175" width="1" height="10" fill="#808082"/>
<rect x="1028" y="176" width="5" height="9" fill="#225437"/>
<rect x="1029" y="177" width="3" height="7" fill="#6ba583"/>
<rect x="1037" y="171" width="1" height="9" fill="#808082"/>
<rect x="1035" y="174" width="5" height="3" fill="#225437"/>
<rect x="1036" y="175" width="3" height="1" fill="#6ba583"/>
<rect x="1043" y="172" width="1" height="10" fill="#808082"/>
<rect x="1041" y="173" width="5" height="5" fill="#5b1a13"/>
<rect x="1042" y="174" width="3" height="3" fill="#d75442"/>
<rect x="1050" y="174" width="1" height="9" fill="#808082"/>
<rect x="1048" y="177" width="5" height="2" fill="#225437"/>
<rect x="1056" y="174" width="1" height="6" fill="#808082"/>
<rect x="1054" y="175" width="5" height="3" fill="#225437"/>
<rect x="1055" y="176" width="3" height="1" fill="#6ba583"/>
<rect x="1063" y="156" width="1" height="20" fill="#808082"/>
<rect x="1061" y="161" width="5" height="15" fill="#225437"/>
<rect x="1062" y="162" width="3" height="13" fill="#6ba583"/>
<rect x="1069" y="161" width="1" height="7" fill="#808082"/>
<rect x="1067" y="161" width="5" height="4" fill="#5b1a13"/>
<rect x="1068" y="162" width="3" height="2" fill="#d75442"/>
<rect x="1076" y="161" width="1" height="30" fill="#808082"/>
<rect x="1074" y="165" width="5" height="12" fill="#5b1a13"/>
<rect x="1075" y="166" width="3" height="10" fill="#d75442"/>
<rect x="1082" y="176" width="1" height="13" fill="#808082"/>
<rect x="1080" y="177" width="5" height="3" fill="#5b1a13"/>
<rect x="1081" y="178" width="3" height="1" fill="#d75442"/>
<rect x="1088" y="175" width="1" height="9" fill="#808082"/>
<rect x="1086" y="179" width="5" height="2" fill="#225437"/>
<rect x="1095" y="175" width="1" height="6" fill="#808082"/>
<rect x="1093" y="176" width="5" height="4" fill="#225437"/>
<rect x="1094" y="177" width="3" height="2" fill="#6ba583"/>
<rect x="1101" y="168" width="1" height="8" fill="#808082"/>
<rect x="1099" y="171" width="5" height="5" fill="#225437"/>
<rect x="1100" y="172" width="3" height="3" fill="#6ba583"/>
<rect x="1108" y="170" width="1" height="5" fill="#808082"/>
<rect x="1106" y="171" width="5" height="2" fill="#5b1a13"/>
<rect x="1114" y="170" width="1" height="6" fill="#808082"/>
<rect x="1112" y="172" width="5" height="2" fill="#225437"/>
<rect x="1121" y="164" width="1" height="12" fill="#808082"/>
<rect x="1119" y="165" width="5" height="7" fill="#225437"/>
<rect x="1120" y="166" width="3" height="5" fill="#6ba583"/>
<rect x="1127" y="165" width="1" height="4" fill="#808082"/>
<rect x="1125" y="165" width="5" height="3" fill="#5b1a13"/>
<rect x="1126" y="166" width="3" height="1" fill="#d75442"/>
<rect x="1134" y="166" width="1" height="6" fill="#808082"/>
<rect x="1132" y="168" width="5" height="2" fill="#5b1a13"/>
<rect x="1140" y="162" width="1" height="13" fill="#808082"/>
<rect x="1138" y="169" width="5" height="5" fill="#5b1a13"/>
<rect x="1139" y="170" width="3" height="3" fill="#d75442"/>
<rect x="1146" y="171" width="1" height="12" fill="#808082"/>
<rect x="1144" y="173" width="5" height="2" fill="#225437"/>
<rect x="1153" y="166" width="1" height="8" fill="#808082"/>
<rect x="1151" y="169" width="5" height="4" fill="#225437"/>
<rect x="1152" y="170" width="3" height="2" fill="#6ba583"/>
<rect x="1159" y="163" width="1" height="9" fill="#808082"/>
<rect x="1157" y="165" width="5" height="5" fill="#225437"/>
<rect x="1158" y="166" width="3" height="3" fill="#6ba583"/>
<rect x="1166" y="158" width="1" height="10" fill="#808082"/>
<rect x="1164" y="161" width="5" height="4" fill="#225437"/>
<rect x="1165" y="162" width="3" height="2" fill="#6ba583"/>
<rect x="1172" y="159" width="1" height="6" fill="#808082"/>
<rect x="1170" y="160" width="5" height="3" fill="#5b1a13"/>
<rect x="1171" y="161" width="3" height="1" fill="#d75442"/>
<rect x="1179" y="160" width="1" height="8" fill="#808082"/>
<rect x="1177" y="162" width="5" height="2" fill="#225437"/>
<rect x="1185" y="152" width="1" height="11" fill="#808082"/>
<rect x="1183" y="153" width="5" height="9" fill="#225437"/>
<rect x="1184" y="154" width="3" height="7" fill="#6ba583"/>
<rect x="1192" y="147" width="1" height="10" fill="#808082"/>
<rect x="1190" y="152" width="5" height="3" fill="#225437"/>
<rect x="1191" y="153" width="3" height="1" fill="#6ba583"/>
<rect x="1198" y="151" width="1" height="91" fill="#808082"/>
<rect x="1196" y="152" width="5" height="6" fill="#5b1a13"/>
<rect x="1197" y="153" width="3" height="4" fill="#d75442"/>
<rect x="1204" y="153" width="1" height="6" fill="#808082"/>
<rect x="1202" y="156" width="5" height="2" fill="#225437"/>
<rect x="1211" y="141" width="1" height="18" fill="#808082"/>
<rect x="1209" y="143" width="5" height="13" fill="#225437"/>
<rect x="1210" y="144" width="3" height="11" fill="#6ba583"/>
<rect x="1217" y="129" width="1" height="18" fill="#808082"/>
<rect x="1215" y="132" width="5" height="11" fill="#225437"/>
<rect x="1216" y="133" width="3" height="9" fill="#6ba583"/>
<rect x="1224" y="127" width="1" height="8" fill="#808082"/>
<rect x="1222" y="130" width="5" height="3" fill="#225437"/>
<rect x="1223" y="131" width="3" height="1" fill="#6ba583"/>
</g>
<line x1="889.5" y1="2" x2="889.5" y2="846" stroke="#bcbcbc" stroke-width="1" stroke-dasharray="3.7,1.8"/>
<line x1="2" y1="129" x2="1467" y2="129" stroke="#85b99c" stroke-width="2" stroke-dasharray="2,1.3"/>
<line x1="2" y1="154.5" x2="1467" y2="154.5" stroke="#a0a0a0" stroke-width="0.9" stroke-dasharray="3.7,1.8"/>
<polyline fill="none" stroke="#3d9bf0" stroke-width="1.3" stroke-linejoin="round" points="2.0,520.9 6.1,518.3 11.1,521.3 17.8,518.3 24.3,528.4 30.4,536.9 37.5,537.5 43.5,530.4 50.6,520.9 55.7,519.7 63.2,511.6 69.9,517.3 76.9,524.4 83.0,527.4 89.1,518.9 95.2,511.2 101.2,511.6 108.3,525.4 115.4,528.0 121.5,528.0 128.0,517.7 133.6,529.4 139.7,551.7 146.8,580.0 153.9,586.5 160.0,591.2 166.0,591.2 173.1,608.4 180.2,624.6 186.3,635.1 192.3,634.3 198.4,629.0 204.5,633.1 212.6,635.1 219.7,632.7 226.8,623.6 234.9,615.5 243.0,610.8 250.1,611.0 257.1,607.4 263.2,603.3 269.3,597.9 275.4,579.0 281.4,557.8 288.5,537.5 294.6,525.4 301.7,518.3 307.8,521.3 308.5,521.3 315.2,538.5 321.3,548.7 327.3,550.1 334.4,532.5 340.5,524.4 346.6,513.2 353.0,511.8 359.7,508.8 366.4,512.8 372.5,512.8 379.0,522.3 385.4,531.4 391.7,541.2 398.2,530.4 404.7,520.3 411.4,513.8 417.4,515.2 423.9,512.8 430.6,523.3 437.1,542.6 443.8,562.2 450.2,566.5 456.3,558.8 462.4,542.6 469.1,563.8 475.7,596.2 482.2,626.2 488.7,612.4 495.0,610.0 501.5,601.3 507.9,598.7 514.6,589.8 520.7,586.5 527.2,583.5 533.9,583.5 540.3,585.7 546.6,561.8 553.1,543.6 559.2,531.0 565.6,546.6 572.3,554.7 578.8,573.0 585.1,592.2 591.6,615.5 597.6,638.3 604.3,637.1 604.5,637.1 611.1,630.3 617.6,615.5 624.3,619.5 630.8,602.3 637.1,592.2 642.5,587.7 649.2,598.3 655.7,599.9 662.4,593.2 668.8,587.7 675.3,586.5 681.6,588.5 688.1,594.6 694.6,609.4 701.2,624.6 707.7,638.1 714.4,640.4 720.9,640.4 727.2,622.2 733.2,601.9 739.7,591.2 746.2,603.3 752.9,619.5 759.3,618.5 766.0,607.4 772.5,591.8 779.2,565.9 785.3,542.6 791.3,521.3 798.0,517.3 804.5,518.9 811.0,521.7 817.3,512.8 823.7,515.2 830.2,515.9 836.5,519.3 843.0,520.9 849.4,535.5 856.1,545.6 862.6,556.8 868.9,549.3 875.4,548.0 881.8,545.6 888.1,546.0 894.6,549.7 901.1,566.9 906.7,586.1 913.3,622.7 920.0,628.2 926.6,621.6 932.9,594.9 939.5,582.7 946.0,576.7 952.4,575.4 958.8,568.7 965.3,570.1 971.5,573.2 978.2,574.3 984.4,566.1 991.1,550.5 997.7,537.2 1003.3,537.2 1009.9,551.6 1016.6,572.7 1023.5,592.0 1029.9,582.7 1036.6,565.0 1043.2,548.3 1048.8,548.3 1055.5,543.4 1061.7,529.9 1068.3,526.1 1074.8,545.0 1081.4,569.4 1088.1,586.5 1094.3,586.5 1100.5,577.6 1107.0,571.6 1113.2,569.4 1119.9,560.5 1126.5,556.1 1133.2,552.7 1138.7,565.6 1145.4,572.3 1152.1,566.1 1158.7,545.0 1164.9,523.9 1171.4,519.4 1177.6,520.5 1184.3,518.3 1190.5,515.0 1197.1,513.9 1203.8,516.1 1210.2,511.7 1216.9,508.3 1223.6,505.0"/>
<polyline fill="none" stroke="#ff8a2b" stroke-width="1.3" stroke-linejoin="round" points="2.0,519.3 6.1,518.9 11.1,521.3 17.8,519.3 24.3,523.3 30.4,529.4 37.5,534.5 43.5,535.1 50.6,529.4 56.7,522.3 63.2,517.3 69.9,515.9 76.9,517.7 83.0,522.3 89.1,522.9 95.2,518.9 101.2,514.2 108.3,518.3 115.4,524.4 121.5,528.0 128.0,525.0 133.6,525.4 139.7,532.5 146.8,553.7 153.9,573.0 160.0,585.1 166.0,589.8 173.1,595.2 180.2,608.4 186.3,622.6 192.3,631.1 198.4,633.1 204.5,632.3 212.6,632.7 219.7,634.3 226.8,630.3 234.9,621.5 243.0,615.5 250.1,612.0 257.1,609.8 263.2,607.4 269.3,603.3 275.4,593.2 281.4,578.0 288.5,557.8 294.6,540.6 301.7,527.4 307.8,521.9 308.5,521.7 315.2,526.4 321.3,535.5 327.3,545.6 334.4,542.6 340.5,535.5 346.6,523.3 353.0,515.9 359.7,510.8 366.4,510.2 372.5,511.2 379.0,516.3 385.4,523.3 391.7,531.4 398.2,533.9 404.7,531.0 411.4,521.3 417.4,515.9 423.9,514.2 430.6,516.9 437.1,525.4 443.8,542.6 450.2,556.8 456.3,562.2 462.4,555.7 469.1,555.7 475.7,567.9 482.2,595.2 488.7,612.0 495.0,616.1 501.5,607.4 507.9,602.3 514.6,595.8 520.7,591.2 527.2,586.5 533.9,584.1 540.3,584.1 546.6,577.0 553.1,563.8 559.2,545.6 565.6,540.6 572.3,543.6 578.8,558.2 585.1,574.0 591.6,594.2 597.6,618.1 604.3,632.7 604.5,632.3 610.1,635.3 617.6,627.6 624.3,621.5 630.8,612.4 637.1,605.3 642.5,594.8 649.2,593.2 655.7,595.2 662.4,597.9 668.8,593.6 675.3,590.2 681.6,587.7 688.1,590.2 694.6,598.3 701.2,611.4 707.7,624.6 714.4,634.7 720.9,639.8 727.2,634.3 733.2,621.5 739.7,604.3 746.2,598.7 752.9,604.3 759.3,614.1 766.0,615.5 772.5,606.0 779.2,588.1 785.3,566.9 791.3,543.6 798.0,527.4 804.5,519.3 811.0,519.7 817.3,517.3 823.7,516.9 830.2,514.8 836.5,516.9 843.0,518.9 849.4,525.4 856.1,533.5 862.6,545.6 868.9,550.1 875.4,551.7 881.8,548.0 888.1,547.0 894.6,547.2 901.1,553.7 906.7,566.1 913.3,592.7 920.0,614.5 926.6,624.2 932.9,614.9 939.5,599.4 946.0,584.9 952.4,578.9 958.8,573.2 965.3,571.2 971.5,571.2 978.2,573.2 984.4,570.5 991.1,564.3 997.7,551.6 1003.3,541.6 1009.9,541.6 1016.6,553.8 1023.5,572.7 1029.9,583.4 1036.6,579.8 1043.2,565.6 1048.8,553.2 1055.5,546.5 1061.7,540.1 1068.3,533.4 1074.8,533.9 1081.4,547.2 1088.1,567.2 1094.3,581.2 1100.5,583.4 1107.0,578.9 1113.2,572.7 1119.9,567.2 1126.5,561.6 1133.2,556.7 1138.7,558.3 1145.4,563.4 1152.1,567.8 1158.7,560.5 1164.9,544.3 1171.4,529.4 1177.6,521.6 1184.3,519.4 1190.5,517.9 1197.1,516.1 1203.8,515.0 1210.2,513.9 1216.9,512.8 1223.6,508.3"/>
<rect x="2" y="532.8" width="1465" height="95.6" fill="#9915ff" fill-opacity="0.2"/>
<line x1="2" y1="532.8" x2="1467" y2="532.8" stroke="#5c5266" stroke-width="1.1" stroke-dasharray="4.1,1.4"/>
<line x1="2" y1="628.4" x2="1467" y2="628.4" stroke="#5c5266" stroke-width="1.1" stroke-dasharray="4.1,1.4"/>
<polyline fill="none" stroke="#a93bb5" stroke-width="1.3" stroke-linejoin="round" points="2.2,716.4 6.3,711.9 11.2,695.5 17.9,684.5 24.7,725.3 31.4,719.7 37.7,707.4 44.4,718.6 50.9,706.7 57.4,701.1 63.7,695.5 69.9,694.0 76.7,690.6 82.9,681.6 89.2,673.1 95.7,665.9 101.5,660.3 108.3,711.9 115.0,696.2 121.5,678.3 127.8,666.4 134.5,664.8 140.8,697.3 146.8,711.4 153.6,707.4 159.8,720.9 166.3,717.9 172.6,759.0 179.3,779.1 186.1,760.5 192.1,760.5 198.4,764.1 204.7,774.0 211.2,765.0 218.6,760.5 224.2,761.9 230.9,769.0 237.2,774.0 243.7,769.5 249.9,771.7 256.7,771.7 262.9,776.2 269.4,765.0 276.2,741.7 282.4,738.8 288.7,738.8 295.4,726.5 302.2,723.1 308.5,741.7 315.0,747.3 321.3,745.1 327.3,742.8 333.6,720.9 340.3,720.9 347.1,714.8 353.4,701.1 360.1,702.2 366.6,704.5 372.2,685.7 378.9,709.6 385.6,714.1 391.9,707.4 398.2,697.8 404.9,708.5 411.4,708.5 417.7,705.6 424.0,706.7 430.7,734.3 437.2,739.5 443.5,743.3 449.7,736.5 456.5,726.5 462.5,726.5 469.2,771.3 475.5,767.3 482.0,768.4 488.3,757.4 495.0,763.9 501.7,758.5 508.0,754.9 514.5,756.3 520.8,759.4 527.1,755.2 533.8,758.5 540.3,762.8 547.0,730.9 553.3,738.1 559.6,743.9 566.1,743.9 572.4,745.1 579.1,767.3 585.4,769.5 592.1,775.3 597.7,834.1 604.0,801.6 610.8,805.6 617.5,800.4 624.0,805.6 630.3,768.4 637.0,774.0 643.0,792.6 649.8,788.1 656.0,775.1 662.8,782.5 669.0,782.5 675.8,779.1 682.3,791.0 688.5,792.6 694.6,794.8 700.9,800.0 707.6,795.9 714.3,793.7 720.6,797.7 727.1,774.0 733.4,777.3 739.7,787.0 746.2,787.0 752.9,791.5 759.2,788.1 765.9,778.0 772.2,780.3 778.7,771.3 784.9,761.2 791.2,744.4 797.7,752.7 804.4,742.8 810.7,734.3 817.4,728.7 823.0,732.1 829.8,717.9 836.5,714.4 842.8,714.4 849.5,748.4 856.2,742.8 862.3,743.9 868.5,733.9 875.3,735.0 881.3,735.0 888.1,730.9 894.3,736.1 902.2,755.6 907.8,760.6 913.0,780.8 919.7,792.7 926.5,780.3 933.0,768.4 939.5,771.8 946.0,769.6 952.3,764.2 958.8,758.3 965.0,774.0 971.8,769.8 978.5,766.4 984.8,764.2 991.3,763.0 997.8,758.3 1003.6,781.9 1010.3,779.2 1016.6,774.0 1023.3,778.5 1029.6,760.6 1036.1,758.3 1043.1,765.3 1049.1,762.4 1055.4,759.0 1061.9,741.7 1068.4,747.3 1074.9,767.3 1081.7,773.1 1088.4,770.2 1094.7,764.2 1101.2,758.6 1107.4,757.2 1113.7,758.6 1120.2,747.3 1126.5,752.7 1133.2,757.4 1139.5,766.4 1146.0,764.2 1152.3,757.4 1158.6,748.5 1165.1,738.4 1171.8,746.2 1178.3,743.3 1184.4,728.7 1190.9,725.4 1197.4,742.2 1203.9,739.5 1210.6,718.0 1216.9,704.5 1223.6,703.2"/>
<rect x="2" y="712.5" width="1465" height="111" fill="#9915ff" fill-opacity="0.1"/>
<line x1="2" y1="712.5" x2="1467" y2="712.5" stroke="#bdb0c8" stroke-width="1" stroke-dasharray="3.7,1.8"/>
<line x1="2" y1="823.5" x2="1467" y2="823.5" stroke="#bdb0c8" stroke-width="1" stroke-dasharray="3.7,1.8"/>
<g shape-rendering="crispEdges">
<rect x="30" y="0" width="1501" height="1" fill="#f0f2f6"/><rect x="29" y="0" width="1" height="1" fill="#c8ccd4"/><rect x="0" y="0" width="1" height="867" fill="#f4f6f9"/><rect x="1530" y="0" width="1" height="867" fill="#f4f6f9"/>
<rect x="0" y="1" width="1531" height="1" fill="#c8ccd4"/>
<rect x="1" y="1" width="1" height="866" fill="#c8ccd4"/>
<rect x="1529" y="1" width="1" height="421" fill="#c8ccd4"/>
<rect x="1529" y="450" width="1" height="417" fill="#c8ccd4"/>
<rect x="2" y="496" width="1527" height="1" fill="#555"/>
<rect x="2" y="649" width="1527" height="1" fill="#555"/>
<rect x="2" y="846" width="1466" height="1" fill="#555"/>
<rect x="1467" y="2" width="1" height="845" fill="#555"/>
<rect x="1468" y="31" width="3" height="1" fill="#555"/>
<rect x="1468" y="65" width="3" height="1" fill="#555"/>
<rect x="1468" y="99" width="3" height="1" fill="#555"/>
<rect x="1468" y="134" width="3" height="1" fill="#555"/>
<rect x="1468" y="168" width="3" height="1" fill="#555"/>
<rect x="1468" y="203" width="3" height="1" fill="#555"/>
<rect x="1468" y="238" width="3" height="1" fill="#555"/>
<rect x="1468" y="272" width="3" height="1" fill="#555"/>
<rect x="1468" y="307" width="3" height="1" fill="#555"/>
<rect x="1468" y="341" width="3" height="1" fill="#555"/>
<rect x="1468" y="376" width="3" height="1" fill="#555"/>
<rect x="1468" y="410" width="3" height="1" fill="#555"/>
<rect x="1468" y="445" width="3" height="1" fill="#555"/>
<rect x="1468" y="479" width="3" height="1" fill="#555"/>
<rect x="1468" y="501" width="3" height="1" fill="#555"/>
<rect x="1468" y="532" width="3" height="1" fill="#555"/>
<rect x="1468" y="564" width="3" height="1" fill="#555"/>
<rect x="1468" y="596" width="3" height="1" fill="#555"/>
<rect x="1468" y="628" width="3" height="1" fill="#555"/>
<rect x="1468" y="684" width="3" height="1" fill="#555"/>
<rect x="1468" y="740" width="3" height="1" fill="#555"/>
<rect x="1468" y="795" width="3" height="1" fill="#555"/>
<rect x="32" y="847" width="1" height="3" fill="#555"/>
<rect x="115" y="847" width="1" height="3" fill="#555"/>
<rect x="212" y="847" width="1" height="3" fill="#555"/>
<rect x="309" y="847" width="1" height="3" fill="#555"/>
<rect x="393" y="847" width="1" height="3" fill="#555"/>
<rect x="508" y="847" width="1" height="3" fill="#555"/>
<rect x="618" y="847" width="1" height="3" fill="#555"/>
<rect x="708" y="847" width="1" height="3" fill="#555"/>
<rect x="799" y="847" width="1" height="3" fill="#555"/>
<rect x="895" y="847" width="1" height="3" fill="#555"/>
<rect x="979" y="847" width="1" height="3" fill="#555"/>
<rect x="1094" y="847" width="1" height="3" fill="#555"/>
<rect x="1204" y="847" width="1" height="3" fill="#555"/>
<rect x="1288" y="847" width="1" height="3" fill="#555"/>
<rect x="1385" y="847" width="1" height="3" fill="#555"/>
</g>
</svg>
<div class="gl">
<div class="t ax" style="top:26px">500.00</div>
<div class="t ax" style="top:60px">480.00</div>
<div class="t ax" style="top:94px">460.00</div>
<div class="t ax" style="top:129px">440.00</div>
<div class="t ax" style="top:163px">420.00</div>
<div class="t ax" style="top:198px">400.00</div>
<div class="t ax" style="top:233px">380.00</div>
<div class="t ax" style="top:267px">360.00</div>
<div class="t ax" style="top:302px">340.00</div>
<div class="t ax" style="top:336px">320.00</div>
<div class="t ax" style="top:371px">300.00</div>
<div class="t ax" style="top:405px">280.00</div>
<div class="t ax" style="top:440px">260.00</div>
<div class="t ax" style="top:474px">240.00</div>
<div class="t ax" style="top:496px">100.0000</div>
<div class="t ax" style="top:527px">80.0000</div>
<div class="t ax" style="top:559px">60.0000</div>
<div class="t ax" style="top:591px">40.0000</div>
<div class="t ax" style="top:623px">20.0000</div>
<div class="t ax" style="top:679px">80.0000</div>
<div class="t ax" style="top:735px">60.0000</div>
<div class="t ax" style="top:790px">40.0000</div>
<div class="t" style="left:1467px;top:121px;width:48px;height:17px;background:#6aa787;"></div>
<div class="t" style="left:1475px;top:123.4px;font-size:11.6px;font-weight:bold;color:#fff;">442.93</div>
<div class="t" style="left:1467px;top:146px;width:48px;height:17.5px;background:#555;"></div>
<div class="t" style="left:1475px;top:148.8px;font-size:11.6px;font-weight:bold;color:#fff;">428.29</div>
<div style="position:absolute;left:1468px;top:129px;width:3px;height:1px;background:#fff"></div><div style="position:absolute;left:1468px;top:154px;width:3px;height:1px;background:#fff"></div>
<div class="t tm" style="left:32.5px">19</div>
<div class="t tm" style="left:115.5px">Nov</div>
<div class="t tm" style="left:212.5px">16</div>
<div class="t tm" style="left:309.5px">Dec</div>
<div class="t tm" style="left:393.5px">14</div>
<div class="t tm" style="left:618.5px">18</div>
<div class="t tm" style="left:708.5px">Feb</div>
<div class="t tm" style="left:799.5px">15</div>
<div class="t tm" style="left:979.5px">14</div>
<div class="t tm" style="left:1094.5px">Apr</div>
<div class="t tm" style="left:1204.5px">18</div>
<div class="t tm" style="left:1288.5px">May</div>
<div class="t tm" style="left:1385.5px">16</div>
<div class="t tm" style="left:508.5px;font-weight:bold">2016</div>
<div class="t" style="left:853px;top:847px;width:71px;height:20px;background:#555;"></div>
<div class="t tm" style="left:888.6px;top:853.2px;font-weight:bold;color:#fff;font-size:12.3px">2016-02-29</div>
<div style="position:absolute;left:889px;top:847px;width:1px;height:3px;background:#eee"></div>
<div class="bb"></div>
<div style="position:absolute;left:0;top:890px;width:1531px;height:2px;background:#cfd3da"></div>
<div style="position:absolute;left:1529px;top:867px;width:2px;height:25px;background:#cfd3da"></div>
<div style="position:absolute;left:0px;top:867px;width:2px;height:25px;background:#cfd3da"></div>
<div class="sep" style="left:44px"></div>
<div class="sep" style="left:87px"></div>
<div class="sep" style="left:129px"></div>
<div class="sep" style="left:182px"></div>
<div class="sep" style="left:228px"></div>
<div class="sep" style="left:275px"></div>
<div class="sep" style="left:322px"></div>
<div class="sep" style="left:364px"></div>
<div class="sep" style="left:407px"></div>
<div class="sep" style="left:1298px"></div>
<div class="sep" style="left:1345px"></div>
<div class="sep" style="left:1384px"></div>
<div class="sep" style="left:1430px"></div>
<div class="sep" style="left:1484px"></div>
<div class="t bt" style="left:23.5px">All</div>
<div class="t bt" style="left:65.8px">5y</div>
<div class="t bt" style="left:109.0px">1y</div>
<div class="t bt" style="left:156.8px">YTD</div>
<div class="t bt" style="left:205.5px">6m</div>
<div class="t bt" style="left:252.7px">3m</div>
<div class="t bt" style="left:298.9px">1m</div>
<div class="t bt" style="left:343.9px">5d</div>
<div class="t bt" style="left:387.1px">1d</div>
<div class="t bt" style="left:441.6px">Go to...</div>
<div class="t bt" style="left:1323.0px">ext</div>
<div class="t bt" style="left:1365.1px">%</div>
<div class="t bt" style="left:1408.5px">log</div>
<div class="t bt" style="left:1457.7px;color:#4db1e8">auto</div>
<div class="t bt" style="left:1211.5px">23:08:03</div>
<div class="t bt" style="left:1263.4px;font-weight:normal">(UTC-4)</div>
<svg style="position:absolute;left:1499px;top:871px" width="15" height="15" viewBox="-7.5 -7.5 15 15"><g stroke="#666" stroke-width="1.1" fill="none"><circle r="3.6"/><line x1="0" y1="-4.2" x2="0" y2="-6.6" transform="rotate(0)"/><line x1="0" y1="-4.2" x2="0" y2="-6.6" transform="rotate(45)"/><line x1="0" y1="-4.2" x2="0" y2="-6.6" transform="rotate(90)"/><line x1="0" y1="-4.2" x2="0" y2="-6.6" transform="rotate(135)"/><line x1="0" y1="-4.2" x2="0" y2="-6.6" transform="rotate(180)"/><line x1="0" y1="-4.2" x2="0" y2="-6.6" transform="rotate(225)"/><line x1="0" y1="-4.2" x2="0" y2="-6.6" transform="rotate(270)"/><line x1="0" y1="-4.2" x2="0" y2="-6.6" transform="rotate(315)"/></g></svg>
<div style="position:absolute;left:7px;top:15px;width:12px;height:12px;border:1px solid #666;border-radius:2.5px;background:#fff"></div>
<div style="position:absolute;left:9.3px;top:21.4px;width:9.4px;height:1.4px;background:#808080"></div>
<div class="t" style="left:28.4px;top:12px;font-size:20px;transform:scaleX(0.9385);transform-origin:0 0;color:#444;">Bitcoin / Dollar, D, BITSTAMP</div>
<div class="t" style="left:279.5px;top:21px;width:0;height:0;border-left:3.5px solid transparent;border-right:3.5px solid transparent;border-top:4px solid #c4c4c4"></div>
<div class="t" style="left:341.0px;top:17.1px;font-size:12.6px;color:#555">O</div>
<div class="t" style="left:357.3px;top:17.1px;font-size:12.6px;color:#5fa47e">430.26</div>
<div class="t" style="left:400.6px;top:17.1px;font-size:12.6px;color:#555">H</div>
<div class="t" style="left:417.0px;top:17.1px;font-size:12.6px;color:#5fa47e">440.99</div>
<div class="t" style="left:460.3px;top:17.1px;font-size:12.6px;color:#555">L</div>
<div class="t" style="left:473.9px;top:17.1px;font-size:12.6px;color:#5fa47e">428.12</div>
<div class="t" style="left:517.7px;top:17.1px;font-size:12.6px;color:#555">C</div>
<div class="t" style="left:533.9px;top:17.1px;font-size:12.6px;color:#5fa47e">435.23</div>
<div class="t lg" style="left:6.6px;top:38px">MA (100, close)</div>
<div class="t" style="left:105px;top:42px;width:0;height:0;border-left:3.5px solid transparent;border-right:3.5px solid transparent;border-top:4px solid #c4c4c4"></div>
<div class="t lg" style="left:6.6px;top:60px">MA (200, close)</div>
<div class="t" style="left:105px;top:64px;width:0;height:0;border-left:3.5px solid transparent;border-right:3.5px solid transparent;border-top:4px solid #c4c4c4"></div>
<div class="t lg" style="left:6.4px;top:505.5px;font-size:13.3px">Stoch (14, 3, 3)</div>
<div class="t" style="left:103px;top:510px;width:0;height:0;border-left:3.5px solid transparent;border-right:3.5px solid transparent;border-top:4px solid #c4c4c4"></div>
<div class="t lg" style="left:7px;top:658.5px;font-size:13.5px">RSI (14, close)</div>
<div class="t" style="left:101px;top:663px;width:0;height:0;border-left:3.5px solid transparent;border-right:3.5px solid transparent;border-top:4px solid #c4c4c4"></div>
<svg style="position:absolute;left:1380px;top:11px" width="20" height="20" viewBox="1380 11 20 20"><circle cx="1390" cy="21" r="7" fill="#fff" stroke="#ff7416" stroke-width="2.1"/><path d="M1389.3 16.2 H1390.7 L1390.4 23.3 H1389.6 Z" fill="#ff8b3d"/><rect x="1389.5" y="24.2" width="1" height="1" fill="#ff8b3d"/></svg>
<div style="position:absolute;left:1404.9px;top:17px;width:8.3px;height:9px;border-radius:50%;background:#2e8b57"></div>
<div class="t" style="left:1418px;top:14.5px;font-size:12px;color:#2e8b57">realtime</div>
<div class="t" style="left:49.5px;top:785.2px;font-size:11px;font-weight:bold;color:#8c8c8c">Sponsored by</div>
<svg style="position:absolute;left:0;top:780px" width="150" height="50" viewBox="0 780 150 50"><g fill="#3c68a8"><clipPath id="fxc"><ellipse cx="35.4" cy="809.15" rx="13.5" ry="15.1"/></clipPath><g clip-path="url(#fxc)"><path d="M15 785 H58.5 V788.1 L36.9 812.7 V803.7 H15 Z"/><path d="M60 830.5 H12.6 L34.6 805.5 V815.1 H60 Z"/></g><path d="M54.2 815.9 V801.2 a2 2 0 0 1 2 -2 H69.7 V803.7 H59.6 V806 H69.7 V809.6 H59.6 V815.9 Z"/><path d="M71.3 799.2 H77.9 L89.3 815.9 H82.8 Z"/><path d="M82.8 799.2 H89.3 L78.7 815.9 H72.2 Z"/></g><g fill="none" stroke="#3c68a8" stroke-width="4.7"><path d="M108.1 801.55 H95.8 a3 3 0 0 0 -3 3 V810.5 a3 3 0 0 0 3 3 H108.1"/><path d="M112.5 815.9 V804.5 a3 3 0 0 1 3 -3 H127.2 a3 3 0 0 1 3 3 V815.9 M121.4 801.5 V815.9"/></g><g fill="#3c68a8"><rect x="103.6" y="799.2" width="4.5" height="5.3"/><rect x="103.6" y="810.6" width="4.5" height="5.3"/></g></svg>
</div>
</body></html>
